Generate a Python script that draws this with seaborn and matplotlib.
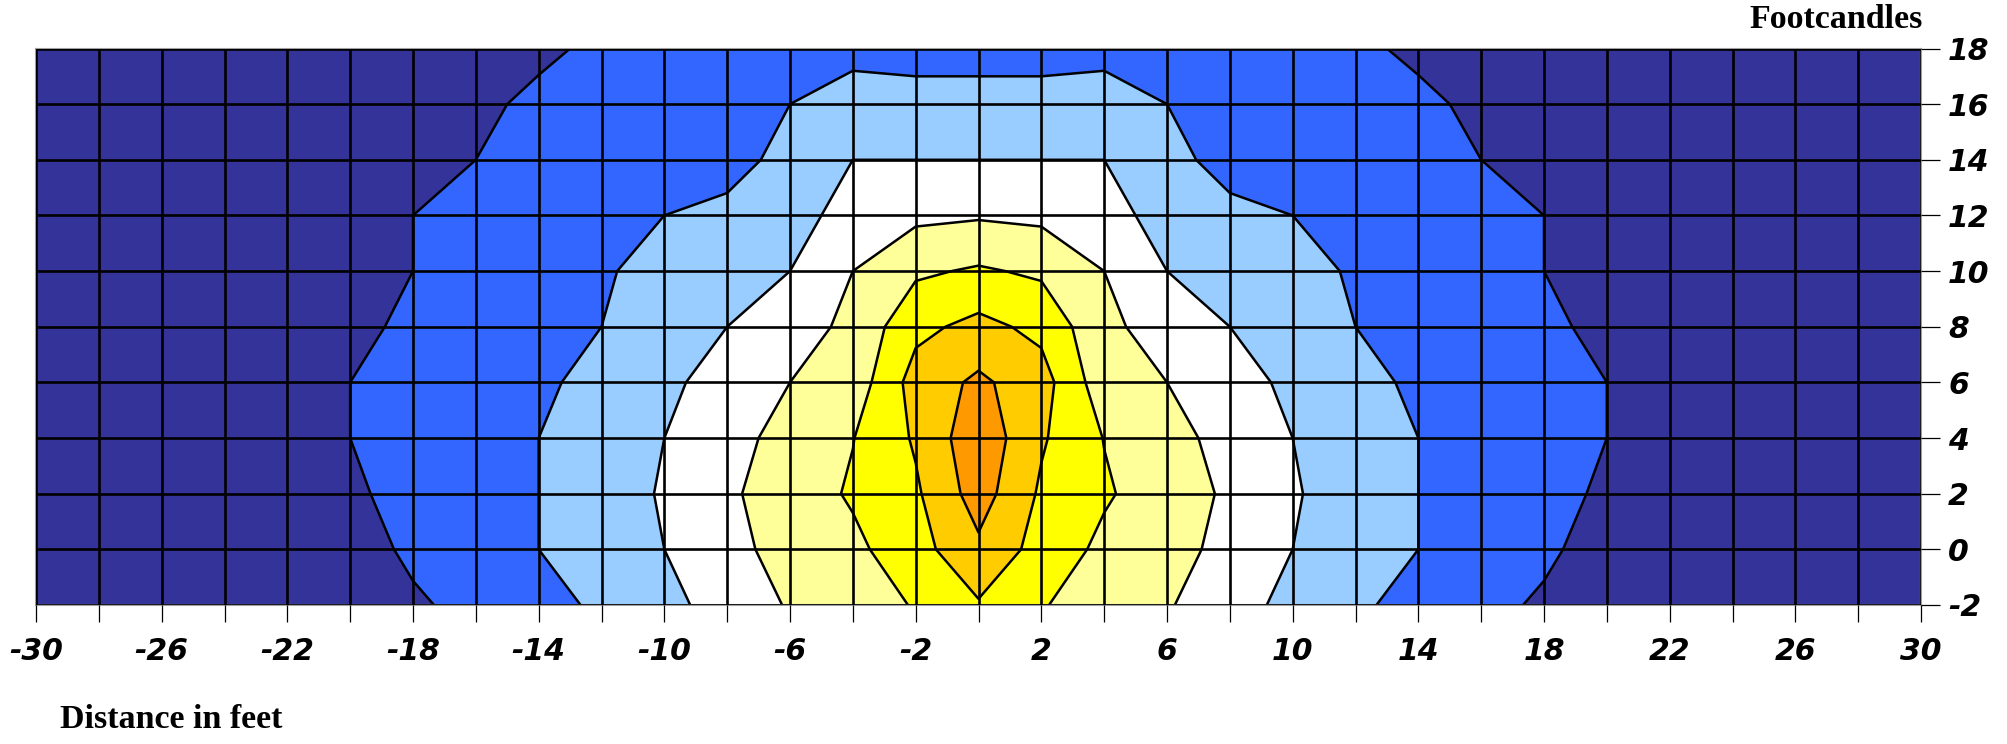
import numpy as np
import matplotlib
matplotlib.use("Agg")
import matplotlib.pyplot as plt
import seaborn as sns

# ---------------- data ----------------
distance_ft = list(range(-30, 31, 2))      # x positions (feet)
height_ft = list(range(-2, 19, 2))         # y positions (feet)

# footcandle values, one row per y position (x = -30 ... 30)
fc_y_m2 = [0.28, 0.32, 0.38, 0.45, 0.55, 0.70, 0.90, 1.20, 1.62, 2.19, 2.79, 3.30, 4.10, 4.50, 5.07, 5.90,
           5.07, 4.50, 4.10, 3.30, 2.79, 2.19, 1.62, 1.20, 0.90, 0.70, 0.55, 0.45, 0.38, 0.32, 0.28]
fc_y_0 = [0.28, 0.32, 0.38, 0.45, 0.55, 0.70, 1.13, 1.57, 2.00, 2.50, 3.00, 3.69, 4.38, 4.77, 5.62, 6.80,
          5.62, 4.77, 4.38, 3.69, 3.00, 2.50, 2.00, 1.57, 1.13, 0.70, 0.55, 0.45, 0.38, 0.32, 0.28]
fc_y_2 = [0.30, 0.35, 0.40, 0.48, 0.60, 0.88, 1.25, 1.63, 2.00, 2.39, 3.12, 3.85, 4.48, 5.12, 5.85, 7.46,
          5.85, 5.12, 4.48, 3.85, 3.12, 2.39, 2.00, 1.63, 1.25, 0.88, 0.60, 0.48, 0.40, 0.35, 0.30]
fc_y_4 = [0.30, 0.35, 0.42, 0.50, 0.70, 1.00, 1.33, 1.67, 2.00, 2.50, 3.00, 3.67, 4.33, 4.97, 6.12, 7.70,
          6.12, 4.97, 4.33, 3.67, 3.00, 2.50, 2.00, 1.67, 1.33, 1.00, 0.70, 0.50, 0.42, 0.35, 0.30]
fc_y_6 = [0.30, 0.35, 0.42, 0.50, 0.70, 1.00, 1.28, 1.57, 1.85, 2.26, 2.80, 3.38, 4.00, 4.40, 6.42, 7.19,
          6.42, 4.40, 4.00, 3.38, 2.80, 2.26, 1.85, 1.57, 1.28, 1.00, 0.70, 0.50, 0.42, 0.35, 0.30]
fc_y_8 = [0.30, 0.35, 0.40, 0.48, 0.60, 0.84, 1.13, 1.42, 1.71, 2.00, 2.50, 3.00, 3.57, 4.23, 5.74, 6.29,
          5.74, 4.23, 3.57, 3.00, 2.50, 2.00, 1.71, 1.42, 1.13, 0.84, 0.60, 0.48, 0.40, 0.35, 0.30]
fc_y_10 = [0.28, 0.32, 0.38, 0.45, 0.58, 0.80, 1.00, 1.31, 1.62, 1.91, 2.27, 2.64, 3.00, 4.00, 4.84, 5.12,
           4.84, 4.00, 3.00, 2.64, 2.27, 1.91, 1.62, 1.31, 1.00, 0.80, 0.58, 0.45, 0.38, 0.32, 0.28]
fc_y_12 = [0.27, 0.30, 0.35, 0.42, 0.55, 0.78, 1.00, 1.25, 1.50, 1.75, 2.00, 2.25, 2.50, 3.50, 3.79, 3.90,
           3.79, 3.50, 2.50, 2.25, 2.00, 1.75, 1.50, 1.25, 1.00, 0.78, 0.55, 0.42, 0.35, 0.30, 0.27]
fc_y_14 = [0.25, 0.28, 0.32, 0.38, 0.50, 0.65, 0.80, 1.00, 1.16, 1.32, 1.47, 1.63, 2.32, 3.00, 3.00, 3.00,
           3.00, 3.00, 2.32, 1.63, 1.47, 1.32, 1.16, 1.00, 0.80, 0.65, 0.50, 0.38, 0.32, 0.28, 0.25]
fc_y_16 = [0.25, 0.27, 0.30, 0.35, 0.45, 0.60, 0.75, 0.89, 1.11, 1.33, 1.56, 1.78, 2.00, 2.30, 2.40, 2.40,
           2.40, 2.30, 2.00, 1.78, 1.56, 1.33, 1.11, 0.89, 0.75, 0.60, 0.45, 0.35, 0.30, 0.27, 0.25]
fc_y_18 = [0.22, 0.24, 0.27, 0.30, 0.38, 0.50, 0.62, 0.75, 0.90, 1.10, 1.30, 1.50, 1.70, 1.80, 1.60, 1.60,
           1.60, 1.80, 1.70, 1.50, 1.30, 1.10, 0.90, 0.75, 0.62, 0.50, 0.38, 0.30, 0.27, 0.24, 0.22]

band_levels = [0, 1, 2, 3, 4, 5, 6, 7, 8]
band_colors = ["#333399", "#3366FF", "#99CCFF", "#FFFFFF",
               "#FFFF99", "#FFFF00", "#FFCC00", "#FF9900"]
x_tick_labels = list(range(-30, 31, 4))
y_tick_labels = list(range(-2, 19, 2))

# ---------------- figure ----------------
sns.set_theme(style="white")
plt.rcParams["font.family"] = ["DejaVu Sans"]
plt.rcParams["text.color"] = "black"

Z = np.array([fc_y_m2, fc_y_0, fc_y_2, fc_y_4, fc_y_6, fc_y_8,
              fc_y_10, fc_y_12, fc_y_14, fc_y_16, fc_y_18])
X, Y = np.meshgrid(distance_ft, height_ft)

fig = plt.figure(figsize=(20.07, 7.44), dpi=100)
ax = fig.add_axes([36 / 2007, 1 - 605 / 744, (1921 - 36) / 2007, (605 - 48.5) / 744])

palette = sns.color_palette(band_colors)
ax.contourf(X, Y, Z, levels=band_levels, colors=palette, antialiased=True)
ax.contour(X, Y, Z, levels=band_levels[1:-1], colors="black", linewidths=1.8)

ax.set_xlim(-30, 30)
ax.set_ylim(-2, 18)

ax.set_xticks(x_tick_labels)
ax.set_xticks(list(range(-28, 29, 4)), minor=True)
ax.set_xticklabels([str(v) for v in x_tick_labels])
ax.set_yticks(y_tick_labels)
ax.set_yticklabels([str(v) for v in y_tick_labels])
ax.yaxis.tick_right()

tick_font = dict(family="DejaVu Sans", weight="bold", style="italic", size=21.5)
for lab in ax.get_xticklabels() + ax.get_yticklabels():
    lab.set_fontproperties(matplotlib.font_manager.FontProperties(**tick_font))
    lab.set_color("black")

ax.tick_params(axis="x", which="both", direction="out", length=12, width=0.9,
               color="black", labelcolor="black", pad=11, bottom=True, top=False)
ax.tick_params(axis="y", which="both", direction="out", length=13.5, width=0.9,
               color="black", labelcolor="black", pad=6, right=True, left=False,
               labelright=True, labelleft=False)

ax.set_axisbelow(False)
ax.grid(True, which="both", axis="x", color="black", linewidth=1.9)
ax.grid(True, which="major", axis="y", color="black", linewidth=1.9)

for side in ["top", "left", "right", "bottom"]:
    ax.spines[side].set_color("#a0a0a0")
    ax.spines[side].set_linewidth(1.5)

label_font = dict(family="Liberation Serif", weight="bold", size=24.5, color="black")
fig.text(1923 / 2007, 1 - 19 / 744, "Footcandles", ha="right", va="center", **label_font)
fig.text(60 / 2007, 1 - 720 / 744, "Distance in feet", ha="left", va="center", **label_font)

fig.savefig("out.png", dpi=100)
